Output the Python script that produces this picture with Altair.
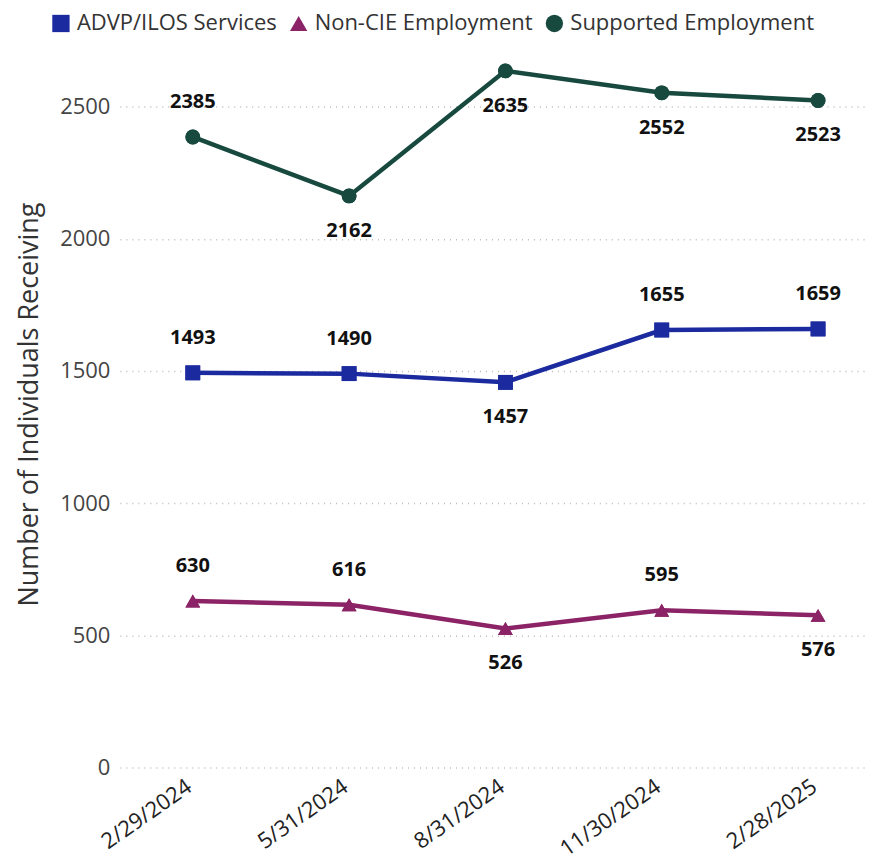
import altair as alt
import pandas as pd
import json

dates = ["2/29/2024", "5/31/2024", "8/31/2024", "11/30/2024", "2/28/2025"]
series = ["ADVP/ILOS Services", "Non-CIE Employment", "Supported Employment"]
advp = [1493, 1490, 1457, 1655, 1659]
noncie = [630, 616, 526, 595, 576]
supported = [2385, 2162, 2635, 2552, 2523]
advp_pos = ["above", "above", "below", "above", "above"]
noncie_pos = ["above", "above", "below", "above", "below"]
supported_pos = ["above", "below", "below", "below", "below"]
colors = ["#1B2A9E", "#8B2366", "#17493F"]
shapes = ["square", "triangle-up", "circle"]

rows = []
for name, vals, pos in zip(series, [advp, noncie, supported], [advp_pos, noncie_pos, supported_pos]):
    for i, (d, v, p) in enumerate(zip(dates, vals, pos)):
        rows.append({"idx": i, "date": d, "series": name, "value": v, "pos": p})
df = pd.DataFrame(rows)

FONT = "Open Sans"
label_expr = json.dumps(dates) + "[datum.value]"

x = alt.X("idx:Q", title=None,
          scale=alt.Scale(domain=[-0.4665, 4.3259], nice=False, zero=False),
          axis=alt.Axis(values=[0, 1, 2, 3, 4], labelExpr=label_expr,
                        labelAngle=-35, labelAlign="right", labelBaseline="alphabetic",
                        labelFontSize=22, labelColor="#222222", labelFont=FONT,
                        ticks=False, domain=False, labelPadding=22, grid=False,
                        labelFlush=False, labelOverlap=False, labelBound=False))
y = alt.Y("value:Q", title="Number of Individuals Receiving",
          scale=alt.Scale(domain=[0, 2750], nice=False, zero=True),
          axis=alt.Axis(values=[0, 500, 1000, 1500, 2000, 2500], format="d",
                        labelFontSize=22, labelColor="#444444", labelFont=FONT,
                        ticks=False, domain=False, labelPadding=10, grid=True,
                        gridDash=[1, 5], gridColor="#BBBBBB", gridWidth=1.5,
                        titleFontSize=27, titleFont=FONT, titleFontWeight="normal",
                        titleColor="#333333", titlePadding=16))
legend = alt.Legend(title=None, orient="none", direction="horizontal",
                    legendX=-70, legendY=-28, labelFontSize=22, labelLimit=0,
                    labelFont=FONT, labelColor="#333333", symbolSize=300,
                    symbolStrokeWidth=0, columnPadding=10, labelOffset=5)
color = alt.Color("series:N", sort=series,
                  scale=alt.Scale(domain=series, range=colors), legend=legend)
shape = alt.Shape("series:N", sort=series,
                  scale=alt.Scale(domain=series, range=shapes), legend=legend)

base = alt.Chart(df)
lines = base.mark_line(strokeWidth=4.5).encode(x=x, y=y, color=color, detail="series:N")
points = base.mark_point(filled=True, size=220, opacity=1).encode(
    x=x, y=y, color=color, shape=shape)
above = base.transform_filter(alt.datum.pos == "above").mark_text(
    dy=-35, fontSize=20, fontWeight="bold", font=FONT, color="#111111").encode(
    x=x, y=y, text="value:Q")
below = base.transform_filter(alt.datum.pos == "below").mark_text(
    dy=35, fontSize=20, fontWeight="bold", font=FONT, color="#111111").encode(
    x=x, y=y, text="value:Q")

chart = alt.layer(points, lines, points, above, below).properties(
    width=750, height=728, background="white",
    autosize=alt.AutoSizeParams(type="none"),
    padding={"left": 112, "top": 32, "right": 0, "bottom": 99},
).configure_view(strokeWidth=0)

chart.save("out.html", embed_options={"renderer": "svg", "actions": False})
